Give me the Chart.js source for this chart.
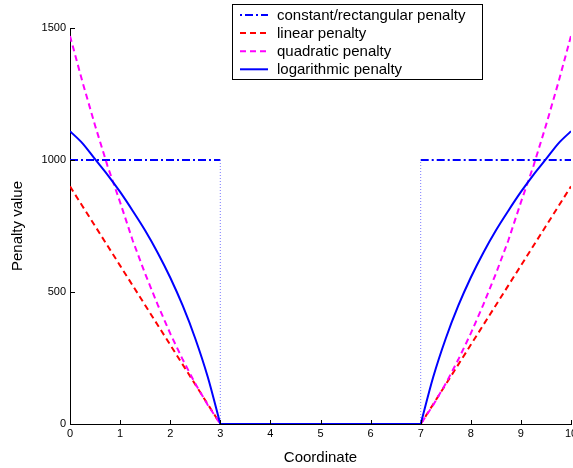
<!DOCTYPE html>
<html>
<head>
<meta charset="utf-8">
<script src="https://cdn.jsdelivr.net/npm/chart.js@4.4.1/dist/chart.umd.min.js"></script>
<style>
  html, body { margin: 0; padding: 0; background: #fff; }
  canvas { display: block; }
</style>
</head>
<body>
<canvas id="penalty" width="573" height="468"></canvas>
<script>
// coordinates shared by the linear / quadratic / log penalties
const coords = [0, 0.25, 0.5, 0.75, 1, 1.25, 1.5, 1.75, 2, 2.25, 2.5, 2.75, 3,
                7, 7.25, 7.5, 7.75, 8, 8.25, 8.5, 8.75, 9, 9.25, 9.5, 9.75, 10];
const linearPen = [900, 825, 750, 675, 600, 525, 450, 375, 300, 225, 150, 75, 0,
                   0, 75, 150, 225, 300, 375, 450, 525, 600, 675, 750, 825, 900];
const quadPen = [1470, 1295, 1131, 977, 840, 696, 569, 452, 343, 244, 153, 72, 0,
                 0, 72, 153, 244, 343, 452, 569, 696, 840, 977, 1131, 1295, 1470];
const logPen = [1109, 1063, 1003, 944, 879, 808, 733, 649, 555, 448, 324, 178, 0,
                0, 178, 324, 448, 555, 649, 733, 808, 879, 944, 1003, 1063, 1109];

// rectangular penalty: flat 1000 outside [3, 7], 0 inside
const constX = [0, 3, 3, 7, 7, 10];
const constY = [1000, 1000, 0, 0, 1000, 1000];

const xTicks = [0, 1, 2, 3, 4, 5, 6, 7, 8, 9, 10];
const yTicks = [0, 500, 1000, 1500];

const FONT = '"Liberation Sans", Arial, Helvetica, sans-serif';

function pts(xs, ys) {
  return xs.map((x, i) => ({ x: x, y: ys[i] }));
}

// log curve: smooth arms, split at the kinks so the corners stay sharp
const mid = 13;
const logData = [
  ...pts(coords.slice(0, mid), logPen.slice(0, mid)),
  { x: coords[mid - 1], y: null },
  ...pts(coords.slice(mid - 1, mid + 1), logPen.slice(mid - 1, mid + 1)),
  { x: coords[mid], y: null },
  ...pts(coords.slice(mid), logPen.slice(mid))
];

// MATLAB-style inward tick marks
const innerTicks = {
  id: 'innerTicks',
  afterDatasetsDraw(chart) {
    const { ctx, chartArea, scales } = chart;
    ctx.save();
    ctx.strokeStyle = '#000';
    ctx.lineWidth = 1;
    ctx.beginPath();
    xTicks.forEach(v => {
      const px = Math.round(scales.x.getPixelForValue(v)) + 0.5;
      ctx.moveTo(px, chartArea.bottom);
      ctx.lineTo(px, chartArea.bottom - 4);
    });
    yTicks.forEach(v => {
      const py = Math.round(scales.y.getPixelForValue(v)) + 0.5;
      ctx.moveTo(chartArea.left, py);
      ctx.lineTo(chartArea.left + 5, py);
    });
    ctx.stroke();
    ctx.restore();
  }
};

// boxed legend sitting over the top of the axes
const boxLegend = {
  id: 'boxLegend',
  afterDraw(chart) {
    const { ctx } = chart;
    const items = chart.data.datasets.filter(d => d.label);
    const x0 = 232, y0 = 4, w = 250, h = 75;
    ctx.save();
    ctx.fillStyle = '#fff';
    ctx.fillRect(x0, y0, w, h);
    ctx.strokeStyle = '#000';
    ctx.lineWidth = 1;
    ctx.strokeRect(x0 + 0.5, y0 + 0.5, w, h);
    ctx.font = '15px ' + FONT;
    ctx.textBaseline = 'middle';
    items.forEach((d, i) => {
      const y = 15 + i * 18.1;
      ctx.strokeStyle = d.borderColor;
      ctx.lineWidth = d.borderWidth;
      ctx.setLineDash(d.legendDash || d.borderDash || []);
      ctx.beginPath();
      ctx.moveTo(240, y);
      ctx.lineTo(268, y);
      ctx.stroke();
      ctx.setLineDash([]);
      ctx.fillStyle = '#000';
      ctx.fillText(d.label, 277, y + 0.5);
    });
    ctx.restore();
  }
};

new Chart(document.getElementById('penalty'), {
  type: 'line',
  data: {
    datasets: [
      {
        label: 'constant/rectangular penalty',
        data: pts(constX, constY),
        borderColor: '#0000ff',
        borderWidth: 2,
        borderDash: [8, 3, 2, 3],
        legendDash: [2, 3, 8, 3],
        segment: {
          borderColor: c => c.p0.parsed.x === c.p1.parsed.x ? '#7a7aff' : undefined,
          borderWidth: c => c.p0.parsed.x === c.p1.parsed.x ? 1 : undefined,
          borderDash: c => c.p0.parsed.x === c.p1.parsed.x ? [1, 2] : undefined
        },
        order: 4
      },
      {
        label: 'linear penalty',
        data: pts(coords, linearPen),
        borderColor: '#ff0000',
        borderWidth: 2,
        borderDash: [6, 4],
        order: 3
      },
      {
        label: 'quadratic penalty',
        data: pts(coords, quadPen),
        borderColor: '#ff00ff',
        borderWidth: 2,
        borderDash: [6, 4],
        order: 2
      },
      {
        label: 'logarithmic penalty',
        data: logData,
        borderColor: '#0000ff',
        borderWidth: 2,
        cubicInterpolationMode: 'monotone',
        spanGaps: false,
        order: 1
      }
    ]
  },
  options: {
    responsive: false,
    animation: false,
    parsing: false,
    elements: {
      point: { radius: 0 },
      line: { tension: 0, fill: false, borderCapStyle: 'butt' }
    },
    layout: {
      autoPadding: false,
      padding: { left: 0, right: 2, top: 28, bottom: 0 }
    },
    plugins: {
      legend: { display: false },
      tooltip: { enabled: false }
    },
    scales: {
      x: {
        type: 'linear',
        min: 0,
        max: 10,
        afterFit: s => { s.height = 44; s.paddingLeft = 0; s.paddingRight = 0; },
        afterBuildTicks: s => { s.ticks = xTicks.map(v => ({ value: v })); },
        grid: { display: true, drawOnChartArea: false, drawTicks: false },
        border: { display: true, color: '#000', width: 1 },
        ticks: {
          color: '#000', padding: 3, maxRotation: 0,
          font: { family: FONT, size: 11 },
          callback: v => String(v)
        },
        title: {
          display: true,
          text: 'Coordinate',
          color: '#000',
          font: { family: FONT, size: 15 },
          padding: { top: 0, bottom: 1 }
        }
      },
      y: {
        type: 'linear',
        min: 0,
        max: 1500,
        afterFit: s => { s.width = 70; s.paddingTop = 0; s.paddingBottom = 0; },
        afterBuildTicks: s => { s.ticks = yTicks.map(v => ({ value: v })); },
        grid: { display: true, drawOnChartArea: false, drawTicks: false },
        border: { display: true, color: '#000', width: 1 },
        ticks: {
          color: '#000', padding: 4,
          font: { family: FONT, size: 11 },
          callback: v => String(v)
        },
        title: {
          display: true,
          text: 'Penalty value',
          color: '#000',
          font: { family: FONT, size: 15 },
          padding: { top: 9, bottom: 0 }
        }
      }
    }
  },
  plugins: [innerTicks, boxLegend]
});
</script>
</body>
</html>
